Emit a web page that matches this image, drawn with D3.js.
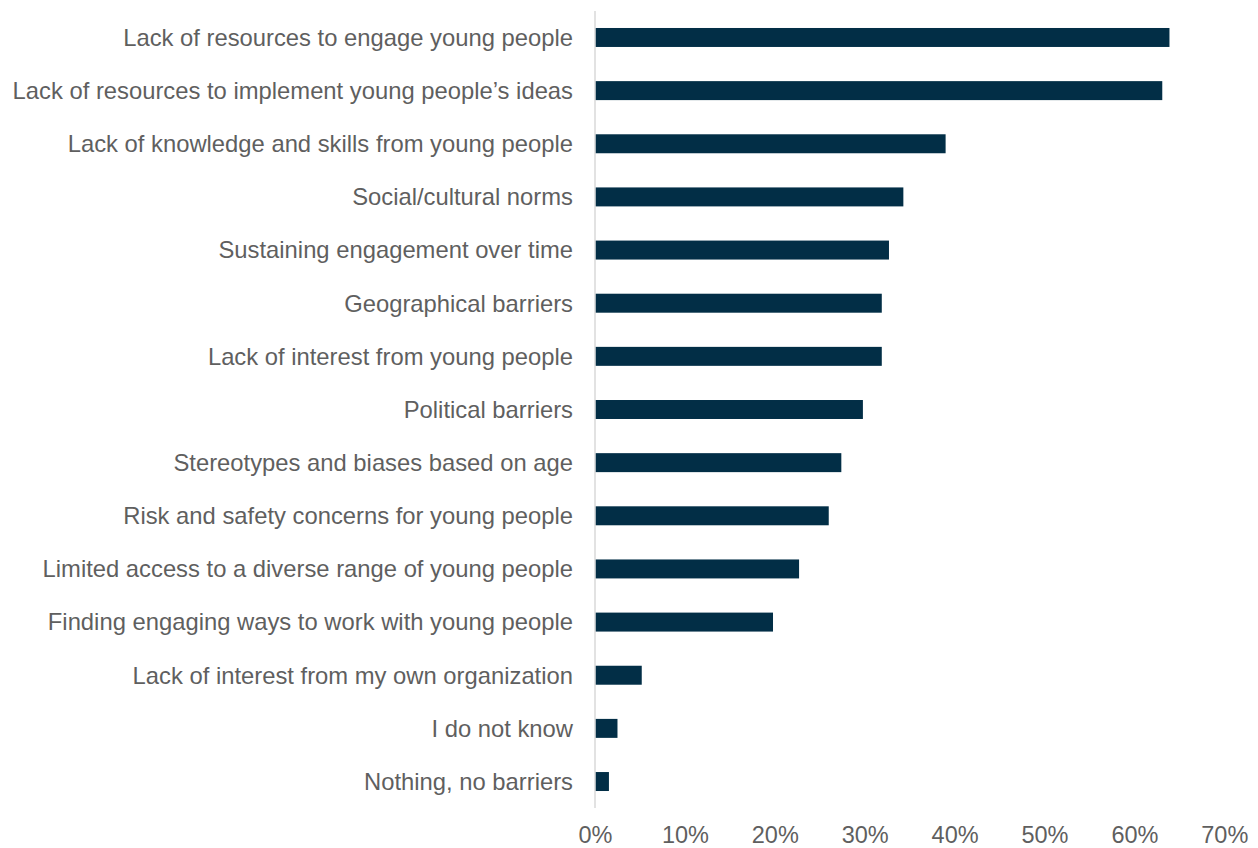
<!DOCTYPE html>
<html>
<head>
<meta charset="utf-8">
<script src="https://cdn.jsdelivr.net/npm/d3@7"></script>
<style>
html,body{margin:0;padding:0;background:#fff;}
svg{display:block;}
</style>
</head>
<body>
<svg id="chart" width="1258" height="848"></svg>
<script>
const categories = [
  "Lack of resources to engage young people",
  "Lack of resources to implement young people\u2019s ideas",
  "Lack of knowledge and skills from young people",
  "Social/cultural norms",
  "Sustaining engagement over time",
  "Geographical barriers",
  "Lack of interest from young people",
  "Political barriers",
  "Stereotypes and biases based on age",
  "Risk and safety concerns for young people",
  "Limited access to a diverse range of young people",
  "Finding engaging ways to work with young people",
  "Lack of interest from my own organization",
  "I do not know",
  "Nothing, no barriers"
];
const values = [63.9, 63.1, 39.0, 34.3, 32.7, 31.9, 31.9, 29.8, 27.4, 26.0, 22.7, 19.8, 5.2, 2.5, 1.55];
const xTicks = [0, 10, 20, 30, 40, 50, 60, 70];

const svg = d3.select("#chart");
const font = "Liberation Sans, Arial, sans-serif";
const textColor = "#5f5f5f";

const x = d3.scaleLinear().domain([0, 70]).range([595, 1224.3]);
const y = d3.scaleBand().domain(categories).range([10.9, 808.1]).paddingInner(0.643).paddingOuter(0.3215);

// axis line
svg.append("line")
  .attr("x1", x(0)).attr("x2", x(0))
  .attr("y1", y.range()[0]).attr("y2", y.range()[1])
  .attr("stroke", "#d9d9d9").attr("stroke-width", 1.5);

// bars
svg.append("g").selectAll("rect")
  .data(categories)
  .join("rect")
  .attr("x", x(0) + 0.75)
  .attr("y", d => y(d))
  .attr("width", (d, i) => x(values[i]) - x(0) - 0.75)
  .attr("height", y.bandwidth())
  .attr("fill", "#022e46");

// category labels
const yAxis = d3.axisLeft(y).tickSize(0).tickPadding(22);
const gy = svg.append("g").attr("transform", `translate(${x(0)},0)`).call(yAxis);
gy.select(".domain").remove();
gy.selectAll("text")
  .attr("font-family", font)
  .attr("font-size", 23.8)
  .attr("fill", textColor)
  .attr("dy", "0.35em");

// x tick labels
const xAxis = d3.axisBottom(x).tickValues(xTicks).tickSize(0).tickPadding(0).tickFormat(d => d + "%");
const gx = svg.append("g").attr("transform", `translate(0,843)`).call(xAxis);
gx.select(".domain").remove();
gx.selectAll("text")
  .attr("font-family", font)
  .attr("font-size", 23.5)
  .attr("fill", textColor)
  .attr("dy", "0");
</script>
</body>
</html>
